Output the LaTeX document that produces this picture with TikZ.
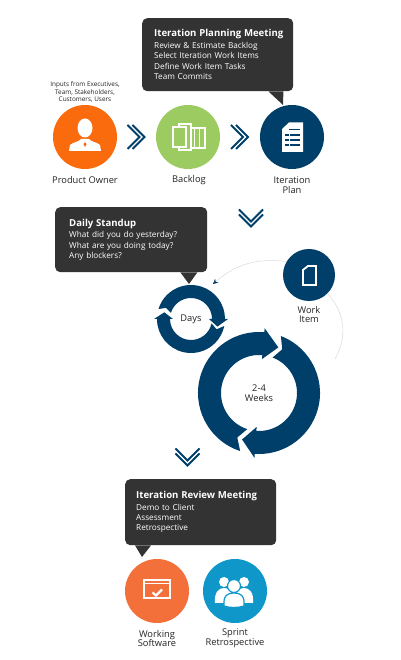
\documentclass[tikz,border=0pt]{standalone}
\usepackage{fontspec}
\setmainfont{Open Sans}
\usetikzlibrary{arrows.meta, positioning, calc}

\definecolor{navy}{HTML}{003F69}
\definecolor{ownerorange}{HTML}{F96B0C}
\definecolor{backloggreen}{HTML}{9CCB62}
\definecolor{softwareorange}{HTML}{F4703A}
\definecolor{retroblue}{HTML}{0F97C9}
\definecolor{bubblegray}{HTML}{333333}
\definecolor{labelgray}{HTML}{222222}

% clockwise ring arrow: tail angle, head base angle, tip angle, notch angle, outer, inner, overhang
\newcommand{\ringarrow}[7]{
    \fill[navy] (#1:#5) arc[start angle=#1, end angle=#2, radius=#5]
        -- (#2:{#5+#7}) -- (#3:{(#5+#6)/2}) -- (#2:{#6-#7}) -- (#2:#6)
        arc[start angle=#2, end angle=#1, radius=#6] -- (#4:{(#5+#6)/2}) -- cycle;
}

\tikzset{
    chevron/.pic={
        \draw[navy, line width=1.9pt, miter limit=10] (-9,12) -- (3,0) -- (-9,-12);
        \draw[navy, line width=1.9pt, miter limit=10] (-4,12) -- (8,0) -- (-4,-12);
    }
}

\begin{document}
\begin{tikzpicture}[x=1pt, y=1pt, node distance=104pt, >=Stealth]

    % Define the styles
    \tikzstyle{disc} = [circle, minimum size=64pt, inner sep=0pt]
    \tikzstyle{bubble} = [rectangle, fill=bubblegray, rounded corners=5pt, text=white, align=left, anchor=north west, inner sep=0pt, font=\fontsize{8.2}{10.4}\selectfont]
    \tikzstyle{caption} = [text=labelgray, align=center, inner sep=0pt, font=\fontsize{9.3}{9.6}\selectfont]
    \tikzstyle{feedback} = [draw=black!15, line width=0.5pt]
    \tikzstyle{icon} = [white, line width=1.5pt]

    \useasboundingbox (0,0) rectangle (400,660);

    % Top row
    \node (owner) [disc, fill=ownerorange] at (85,523) {};
    \node (backlog) [disc, fill=backloggreen, right of=owner, xshift=-1pt] {};
    \node (plan) [disc, fill=navy, right of=backlog] {};
    \node (inputs) [caption, font=\fontsize{6.4}{7.5}\selectfont, above of=owner, node distance=45pt] {Inputs from Executives,\\Team, Stakeholders,\\Customers, Users};
    \node (ownerlabel) [caption, below of=owner, node distance=43pt] {Product Owner};
    \node (backloglabel) [caption, below of=backlog, xshift=1pt, node distance=43pt] {Backlog};
    \node (planlabel) [caption, below of=plan, node distance=48pt] {Iteration\\Plan};

    % Bubbles
    \node (planning) [bubble, minimum width=151pt, minimum height=73pt, text width=151pt] at (142,642) {\hspace*{12pt}\parbox[c][73pt][c]{130pt}{{\fontsize{9.6}{12}\selectfont\bfseries Iteration Planning Meeting}\\[1pt]Review \& Estimate Backlog\\Select Iteration Work Items\\Define Work Item Tasks\\Team Commits}};
    \node (standup) [bubble, minimum width=152pt, minimum height=65pt, text width=152pt] at (55,453) {\hspace*{14pt}\parbox[c][65pt][c]{130pt}{{\fontsize{9.6}{12}\selectfont\bfseries Daily Standup}\\[1pt]What did you do yesterday?\\What are you doing today?\\Any blockers?}};
    \node (review) [bubble, minimum width=151pt, minimum height=66pt, text width=151pt] at (125,181) {\hspace*{11pt}\parbox[c][66pt][c]{130pt}{{\fontsize{9.6}{12}\selectfont\bfseries Iteration Review Meeting}\\[1pt]Demo to Client\\Assessment\\Retrospective}};

    \coordinate (plantip) at (283,555);
    \coordinate (standuptip) at (189,376);
    \coordinate (reviewtip) at (142,103);
    \fill[bubblegray] ([xshift=-25pt]planning.south east) -- (plantip) -- ([xshift=-10pt]planning.south east) -- cycle;
    \fill[bubblegray] ([xshift=-27pt]standup.south east) -- (standuptip) -- ([xshift=-10pt]standup.south east) -- cycle;
    \fill[bubblegray] ([xshift=10pt]review.south west) -- (reviewtip) -- ([xshift=26pt]review.south west) -- cycle;

    % Rings
    \node (days) [inner sep=0pt] at (191,341) {};
    \node (weeks) [inner sep=0pt] at (259,267) {};
    \begin{scope}[shift={(days)}]
        \ringarrow{163}{0}{-16}{156}{34}{21}{3}
        \ringarrow{-12}{-180}{-194}{-22}{34}{21}{3}
    \end{scope}
    \begin{scope}[shift={(weeks)}]
        \ringarrow{252}{85}{67}{244}{61}{38}{4}
        \ringarrow{69}{-94}{-110}{62}{61}{38}{4}
    \end{scope}
    \node (dayslabel) [caption] at (days) {Days};
    \node (weekslabel) [caption] at (weeks) {2-4\\Weeks};

    % Work item
    \node (workitem) [disc, minimum size=52pt, fill=navy] at (309,385) {};
    \node (worklabel) [caption, below of=workitem, node distance=39.5pt] {Work\\Item};
    \coordinate (daysin) at (213,376);
    \coordinate (weeksin) at (335,301);
    \draw[feedback, -{Stealth[navy, length=5pt, width=5pt]}] (workitem.149) to[bend right=24] (daysin);
    \draw[feedback] (workitem.-45) to[bend left=36] (weeksin);

    % Bottom row
    \node (software) [disc, fill=softwareorange] at (157,69) {};
    \node (retro) [disc, fill=retroblue, right of=software, node distance=78pt] {};
    \node (softwarelabel) [caption, below of=software, node distance=47.5pt] {Working\\Software};
    \node (retrolabel) [caption, below of=retro, node distance=47.5pt] {Sprint\\Retrospective};

    % Chevrons
    \pic at ($(owner)!0.5!(backlog)$) {chevron};
    \pic at ($(backlog)!0.5!(plan)$) {chevron};
    \pic[rotate=-90] at (251,441.5) {chevron};
    \pic[rotate=-90] at (187.5,202.5) {chevron};

    % Icons
    \begin{scope}[shift={(owner)}]
        \fill[white] (0,9) ellipse (7.5 and 9.5);
        \fill[white] (-16,-14) -- (-15,-8) .. controls (-12,-5) and (-6,-5) .. (-4,-2) -- (4,-2) .. controls (6,-5) and (12,-5) .. (15,-8) -- (16,-14) -- cycle;
        \fill[ownerorange] (0,-5) -- (1.5,-7.5) -- (0,-10) -- (-1.5,-7.5) -- cycle;
    \end{scope}
    \begin{scope}[shift={(backlog)}]
        \draw[icon] (-3,9) rectangle (17,-11);
        \draw[icon, line width=1pt] (6,9) -- (6,-11) (11.5,9) -- (11.5,-11);
        \draw[icon, fill=backloggreen] (-9,13) rectangle (3,-13);
        \draw[icon, fill=backloggreen] (-15,10) -- (-9,10) -- (-2,10) -- (-2,-10) -- (-15,-10) -- cycle;
    \end{scope}
    \begin{scope}[shift={(plan)}]
        \fill[white] (-10,8) -- (-3,14.5) -- (11,14.5) -- (11,-15) -- (-10,-15) -- cycle;
        \fill[navy] (-7,3) rectangle (8,0.8);
        \fill[navy] (-7,-2) rectangle (8,-4.2);
        \fill[navy] (-7,-7) rectangle (8,-9.2);
        \fill[navy] (-3,8) rectangle (8,6.5);
        \draw[white, line width=0.7pt] (-3,3) -- (-3,-10);
    \end{scope}
    \begin{scope}[shift={(workitem)}]
        \draw[icon, line width=1.8pt] (-6,5) -- (-1,9) -- (7,9) -- (7,-10) -- (-6,-10) -- cycle;
    \end{scope}
    \begin{scope}[shift={(software)}]
        \draw[icon] (-13,11) rectangle (13,-7);
        \draw[icon, line width=1pt] (-13,7) -- (13,7);
        \draw[icon, line width=2.2pt] (-4.5,-1.5) -- (-1,-4.5) -- (5,1.5);
    \end{scope}
    \begin{scope}[shift={(retro)}]
        \fill[white] (-11,9) circle (5);
        \fill[white] (9,9) circle (5);
        \fill[white] (-20,-12) .. controls (-21,-1) and (-16,3) .. (-11,3) .. controls (-6,3) and (-2,0) .. (-2,-12) -- cycle;
        \fill[white] (18,-12) .. controls (19,-1) and (14,3) .. (9,3) .. controls (4,3) and (0,0) .. (0,-12) -- cycle;
        \fill[white, draw=retroblue, line width=1.2pt] (-1,5) circle (6.5);
        \fill[white, draw=retroblue, line width=1.2pt] (-11,-15) .. controls (-12,-4) and (-7,-2) .. (-1,-2) .. controls (5,-2) and (10,-4) .. (9,-15) .. controls (3,-17) and (-5,-17) .. (-11,-15) -- cycle;
    \end{scope}

\end{tikzpicture}
\end{document}
